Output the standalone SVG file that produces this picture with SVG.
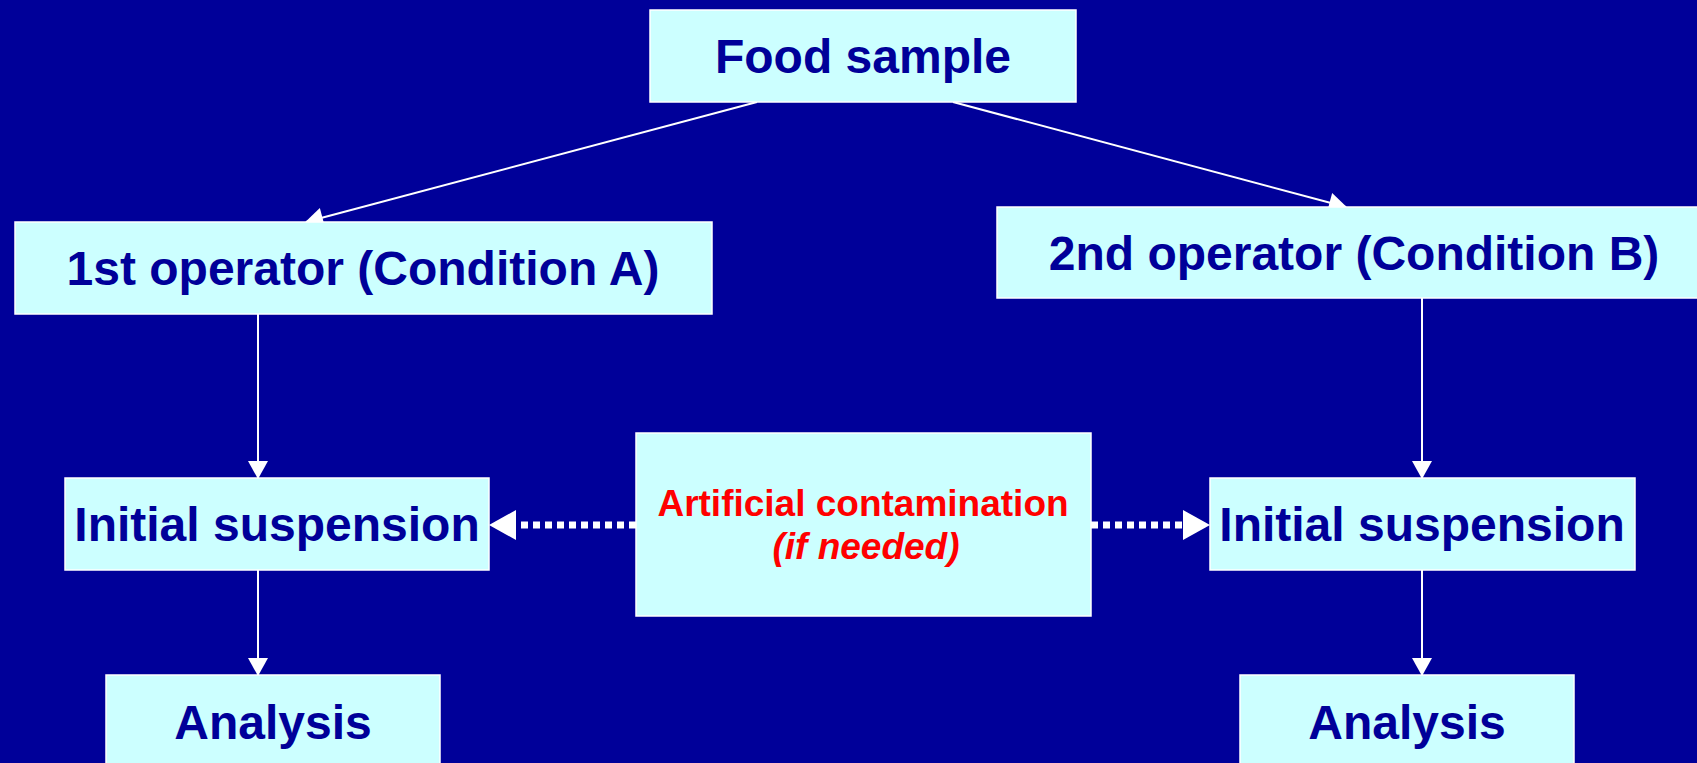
<svg xmlns="http://www.w3.org/2000/svg" width="1697" height="763" viewBox="0 0 1697 763">
  <defs>
    <style>
      .box { fill: #CCFFFF; stroke: #FFFFFF; stroke-width: 1.5; }
      .lbl { font-family: "Liberation Sans", Arial, sans-serif; font-weight: bold; fill: #000099; text-anchor: middle; font-size: 48px; }
      .red { font-family: "Liberation Sans", Arial, sans-serif; font-weight: bold; fill: #FF0000; text-anchor: middle; font-size: 37px; }
      .solid { stroke: #FFFFFF; stroke-width: 2; fill: none; marker-end: url(#arr); }
      .dots { stroke: #FFFFFF; stroke-width: 7; stroke-dasharray: 7 5; fill: none; marker-end: url(#bigarr); }
    </style>
    <marker id="arr" markerUnits="userSpaceOnUse" markerWidth="20" markerHeight="22" viewBox="0 -11 18 22" refX="17" refY="0" orient="auto">
      <path d="M0,-10 L18,0 L0,10 Z" fill="#FFFFFF"/>
    </marker>
    <marker id="bigarr" markerUnits="userSpaceOnUse" markerWidth="30" markerHeight="32" viewBox="0 -16 28 32" refX="0" refY="0" orient="auto">
      <path d="M0,-15 L27,0 L0,15 Z" fill="#FFFFFF"/>
    </marker>
  </defs>
  <rect x="0" y="0" width="1697" height="763" fill="#000099"/>

  <g id="connectors">
    <line class="solid" x1="757" y1="102" x2="306" y2="222"/>
    <line class="solid" x1="953" y1="102" x2="1346" y2="207"/>
    <line class="solid" x1="258" y1="314" x2="258" y2="478"/>
    <line class="solid" x1="258" y1="570" x2="258" y2="675"/>
    <line class="solid" x1="1422" y1="298" x2="1422" y2="478"/>
    <line class="solid" x1="1422" y1="570" x2="1422" y2="675"/>
    <line class="dots" x1="636" y1="525" x2="516" y2="525"/>
    <line class="dots" x1="1091" y1="525" x2="1183" y2="525"/>
  </g>

  <g id="food-sample">
    <rect class="box" x="650" y="10" width="426" height="92"/>
    <text class="lbl" x="863" y="73" font-size="47">Food sample</text>
  </g>

  <g id="operator-1">
    <rect class="box" x="15" y="222" width="697" height="92"/>
    <text class="lbl" x="363" y="285">1st operator (Condition A)</text>
  </g>

  <g id="operator-2">
    <rect class="box" x="997" y="207" width="720" height="91"/>
    <text class="lbl" x="1354" y="270">2nd operator (Condition B)</text>
  </g>

  <g id="suspension-1">
    <rect class="box" x="65" y="478" width="424" height="92"/>
    <text class="lbl" x="277" y="541">Initial suspension</text>
  </g>

  <g id="suspension-2">
    <rect class="box" x="1210" y="478" width="425" height="92"/>
    <text class="lbl" x="1422" y="541">Initial suspension</text>
  </g>

  <g id="contamination">
    <rect class="box" x="636" y="433" width="455" height="183"/>
    <text class="red" x="863" y="516">Artificial contamination</text>
    <text class="red" x="866" y="559" font-style="italic">(if needed)</text>
  </g>

  <g id="analysis-1">
    <rect class="box" x="106" y="675" width="334" height="100"/>
    <text class="lbl" x="273" y="739">Analysis</text>
  </g>

  <g id="analysis-2">
    <rect class="box" x="1240" y="675" width="334" height="100"/>
    <text class="lbl" x="1407" y="739">Analysis</text>
  </g>
</svg>
